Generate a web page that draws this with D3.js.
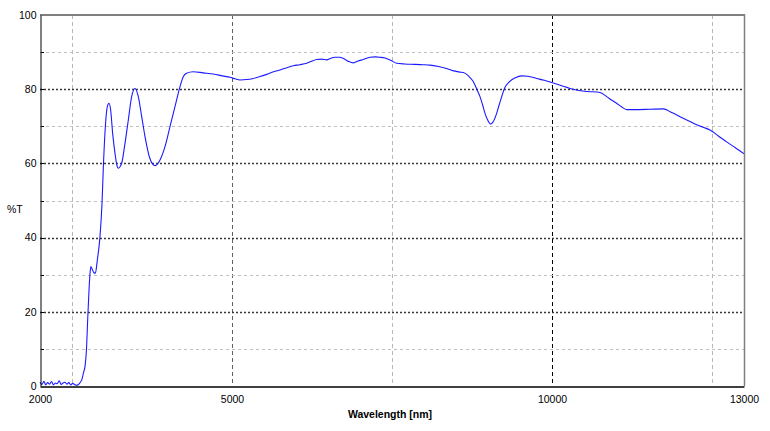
<!DOCTYPE html>
<html><head><meta charset="utf-8">
<script src="https://cdn.jsdelivr.net/npm/d3@7"></script>
<style>body{margin:0;background:#fff}svg{display:block}text{font-family:"Liberation Sans",Arial,sans-serif}</style>
</head><body><svg id="c" width="770" height="431"></svg>
<script>
const wavelength = [2000,2030,2060,2090,2120,2150,2180,2210,2240,2270,2300,2330,2360,2390,2420,2450,2480,2510,2540,2570,2600,2630,2655,2680,2705,2725,2745,2766,2780,2795,2815,2840,2865,2896,2937,2969,2990,3021,3052,3078,3104,3135,3172,3200,3224,3250,3276,3328,3380,3432,3484,3536,3589,3641,3708,3760,3797,3835,3875,3953,4031,4109,4188,4240,4290,4396,4550,4708,4850,4969,5050,5125,5230,5333,5440,5542,5650,5750,5858,5958,6060,6167,6250,6323,6400,6479,6540,6609,6680,6740,6820,6896,6970,7052,7156,7240,7313,7390,7469,7573,7700,7850,7980,8094,8230,8354,8450,8560,8614,8700,8771,8830,8875,8915,8953,9000,9042,9080,9135,9175,9214,9260,9333,9420,9526,9620,9760,9880,9995,10140,10281,10400,10550,10750,10854,10930,11010,11090,11167,11300,11531,11740,11870,12000,12130,12261,12369,12469,12600,12729,12860,13000];
const transmittance = [1.0,0.4,1.3,0.3,0.9,0.5,1.2,0.3,0.8,0.6,1.4,0.4,0.8,1.0,0.5,0.9,0.3,0.7,0.4,0.2,0.4,1.0,1.8,3.6,5.5,9.5,17.8,25.9,30.0,32.2,31.5,30.6,30.4,34.0,40.2,49.2,59.1,69.9,75.3,76.2,74.4,68.1,62.7,59.6,58.7,59.1,60.0,65.4,71.7,78.0,80.2,78.0,72.6,67.2,61.8,59.8,59.4,59.8,60.9,64.5,69.9,75.3,80.7,83.4,84.3,84.7,84.4,84.1,83.6,83.2,82.8,82.5,82.6,82.9,83.4,84.0,84.7,85.2,85.8,86.3,86.6,87.0,87.6,88.0,88.1,87.9,88.3,88.6,88.6,88.3,87.5,87.1,87.6,88.0,88.6,88.7,88.6,88.4,87.9,87.0,86.8,86.7,86.6,86.5,86.1,85.6,85.0,84.6,84.5,83.5,82.0,79.8,78.0,75.8,73.5,71.5,70.6,71.2,73.5,75.8,78.0,80.3,82.0,83.0,83.6,83.5,82.9,82.4,81.8,81.0,80.2,79.7,79.4,79.1,78.0,77.1,76.2,75.2,74.5,74.5,74.6,74.7,73.7,72.6,71.5,70.4,69.7,69.0,67.4,65.8,64.3,62.6];
const xTickLabels = [2000,5000,10000,13000];
const yTickLabels = [0,20,40,60,80,100];
const xGridLight = [2500,7500,12500];
const xGridDark = [5000];
const xGridBlack = [10000];
const yGridLight = [10,30,50,70,90];
const yGridDark = [20,40,60,80];

const svg = d3.select("#c");
const x = d3.scaleLinear().domain([2000,13000]).range([40,744]);
const y = d3.scaleLinear().domain([0,100]).range([386,15]);

const g = svg.append("g");
// vertical grid
g.selectAll(".vgl").data(xGridLight).join("line")
  .attr("x1",d=>x(d)+0.5).attr("x2",d=>x(d)+0.5).attr("y1",y(100)).attr("y2",y(0))
  .attr("stroke","#b8b8b8").attr("stroke-dasharray","4,3");
g.selectAll(".vgd").data(xGridDark).join("line")
  .attr("x1",d=>x(d)+0.5).attr("x2",d=>x(d)+0.5).attr("y1",y(100)).attr("y2",y(0))
  .attr("stroke","#606060").attr("stroke-dasharray","4,3");
g.selectAll(".vgb").data(xGridBlack).join("line")
  .attr("x1",d=>x(d)+0.5).attr("x2",d=>x(d)+0.5).attr("y1",y(100)).attr("y2",y(0))
  .attr("stroke","#000").attr("stroke-dasharray","4,3");
// horizontal grid
g.selectAll(".hgl").data(yGridLight).join("line")
  .attr("x1",x(2000)).attr("x2",x(13000)).attr("y1",d=>Math.round(y(d))+0.5).attr("y2",d=>Math.round(y(d))+0.5)
  .attr("stroke","#c0c0c0").attr("stroke-dasharray","3,3");
g.selectAll(".hgd").data(yGridDark).join("line")
  .attr("x1",x(2000)).attr("x2",x(13000)).attr("y1",d=>Math.round(y(d))+0.5).attr("y2",d=>Math.round(y(d))+0.5)
  .attr("stroke","#383838").attr("stroke-width",1.4).attr("stroke-dasharray","2,2");

// frame
svg.append("line").attr("x1",40).attr("x2",745).attr("y1",15).attr("y2",15).attr("stroke","#808080").attr("stroke-width",2);
svg.append("line").attr("x1",744.5).attr("x2",744.5).attr("y1",14).attr("y2",386).attr("stroke","#808080").attr("stroke-width",1.5);

// curve
const pts = wavelength.map((w,i)=>[w,transmittance[i]]);
svg.append("path").datum(pts)
  .attr("d", d3.line().x(d=>x(d[0])).y(d=>y(d[1])).curve(d3.curveMonotoneX))
  .attr("fill","none").attr("stroke","#1a1aff").attr("stroke-width",1.1);

// axes
const yAxis = d3.axisLeft(y).tickValues(yTickLabels).tickSize(0).tickPadding(4).tickFormat(d3.format("d"));
const ya = svg.append("g").attr("transform","translate(40.5,0)").call(yAxis);
ya.select(".domain").attr("stroke","#000");
ya.selectAll("text").attr("font-size","10.5px").attr("fill","#000");
const xAxis = d3.axisBottom(x).tickValues(xTickLabels).tickSize(0).tickPadding(9).tickFormat(d3.format("d"));
const xa = svg.append("g").attr("transform","translate(0,386.5)").call(xAxis);
xa.select(".domain").attr("stroke","#000").attr("stroke-width",1.5);
xa.selectAll("text").attr("font-size","10.5px").attr("fill","#000");

// minor ticks on left axis
svg.selectAll(".mt").data(d3.range(10,100,10)).join("line")
  .attr("x1",41).attr("x2",44).attr("y1",d=>Math.round(y(d))+0.5).attr("y2",d=>Math.round(y(d))+0.5)
  .attr("stroke","#000");

svg.append("text").attr("x",7).attr("y",213).attr("font-size","10.5px").text("%T");
svg.append("text").attr("x",390).attr("y",418).attr("text-anchor","middle")
  .attr("font-size","10.5px").attr("font-weight","bold").text("Wavelength [nm]");
</script></body></html>
